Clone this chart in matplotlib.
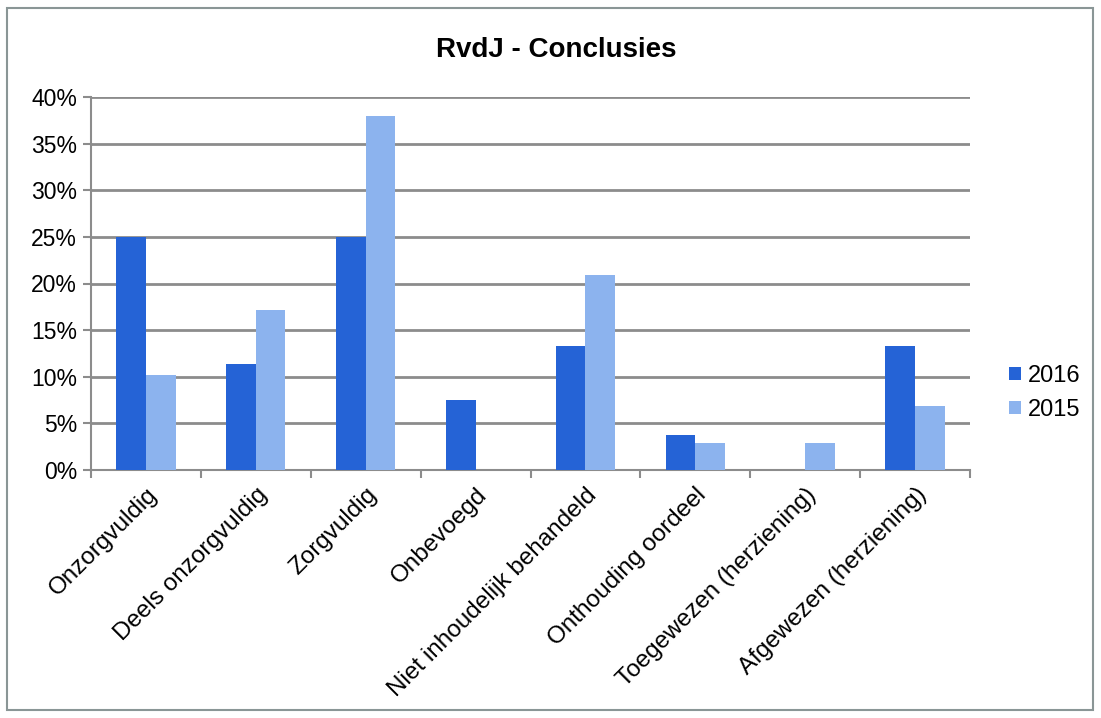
import matplotlib
matplotlib.use("Agg")
import matplotlib.pyplot as plt
from matplotlib.patches import Rectangle
import numpy as np

categories = ["Onzorgvuldig", "Deels onzorgvuldig", "Zorgvuldig", "Onbevoegd",
              "Niet inhoudelijk behandeld", "Onthouding oordeel",
              "Toegewezen (herziening)", "Afgewezen (herziening)"]
vals_2016 = [25.0, 11.4, 25.0, 7.5, 13.3, 3.7, 0.0, 13.3]
vals_2015 = [10.2, 17.2, 38.0, 0.0, 20.9, 2.9, 2.9, 6.9]
yticks = [0, 5, 10, 15, 20, 25, 30, 35, 40]

c2016 = "#2563d6"
c2015 = "#8cb3ee"

plt.rcParams["font.family"] = ["Liberation Sans", "DejaVu Sans"]

fig = plt.figure(figsize=(11.01, 7.18), dpi=100, facecolor="white")
ax = fig.add_axes([91 / 1101, 1 - 470 / 718, (970 - 91) / 1101, (470 - 97) / 718])

x = np.arange(len(categories))
w = 0.27
ax.bar(x - w / 2, vals_2016, w, color=c2016, label="2016", zorder=3)
ax.bar(x + w / 2, vals_2015, w, color=c2015, label="2015", zorder=3)

ax.set_xlim(-0.5, len(categories) - 0.5)
ax.set_ylim(0, 40)
ax.set_yticks(yticks)
ax.set_yticklabels([f"{v}%" for v in yticks], fontsize=16.5)
ax.yaxis.grid(True, color="#8c8c8c", linewidth=2, zorder=0)

# category ticks sit on the boundaries between groups
ax.set_xticks(np.arange(len(categories) + 1) - 0.5)
ax.set_xticklabels([])
ax.set_xticks(x, minor=True)
ax.set_xticklabels(categories, minor=True, rotation=45, ha="right",
                   rotation_mode="anchor", fontsize=17.5)
ax.tick_params(axis="x", which="minor", length=0, pad=10)
ax.tick_params(axis="x", which="major", length=6, color="#8c8c8c", width=1.5)
ax.tick_params(axis="y", length=6, color="#8c8c8c", width=1.5, pad=4)

for s in ("top", "right"):
    ax.spines[s].set_visible(False)
for s in ("bottom", "left"):
    ax.spines[s].set_color("#8c8c8c")
    ax.spines[s].set_linewidth(1.5)

fig.text(556 / 1101, 1 - 50 / 718, "RvdJ - Conclusies", ha="center",
         va="center", fontsize=20, fontweight="bold")

ax.legend(loc="center left", bbox_to_anchor=(988 / 1101, 1 - 393 / 718),
          bbox_transform=fig.transFigure, frameon=False, fontsize=17,
          handlelength=0.5, handleheight=0.5, handletextpad=0.3,
          labelspacing=0.5)

fig.patches.append(Rectangle((7 / 1101, 8 / 718), 1086 / 1101, 702 / 718,
                             transform=fig.transFigure, fill=False,
                             edgecolor="#8a9696", linewidth=1.5))

fig.savefig("out.png", dpi=100, facecolor="white")
